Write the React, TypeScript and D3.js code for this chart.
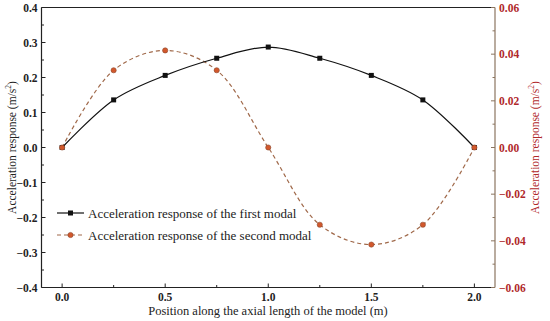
import React from "react";
import * as d3 from "d3";

const positions = [0, 0.25, 0.5, 0.75, 1.0, 1.25, 1.5, 1.75, 2.0];
const firstModal = [0, 0.136, 0.206, 0.255, 0.287, 0.255, 0.206, 0.136, 0];
const secondModal = [0, 0.0331, 0.0416, 0.0331, 0, -0.0331, -0.0416, -0.0331, 0];
const xTicks = [0, 0.5, 1.0, 1.5, 2.0];
const xMinor = [0.25, 0.75, 1.25, 1.75];
const yLeftTicks = [-0.4, -0.3, -0.2, -0.1, 0, 0.1, 0.2, 0.3, 0.4];
const yRightTicks = [-0.06, -0.04, -0.02, 0, 0.02, 0.04, 0.06];
const legendLabels = [
  "Acceleration response of the first modal",
  "Acceleration response of the second modal",
];

const W = 550, H = 321;
const L = 41.5, R = 495, T = 7.5, B = 287.5;
const FONT = '"Liberation Serif", "Times New Roman", "DejaVu Serif", serif';
const RED = "#B0282A";
const RAXIS = "#8B7560";
const DASH = "#A0694A";
const tf = { fontFamily: FONT };

export default function App() {
  const x = d3.scaleLinear().domain([-0.1, 2.1]).range([L, R]);
  const yL = d3.scaleLinear().domain([-0.4, 0.4]).range([B, T]);
  const yR = d3.scaleLinear().domain([-0.06, 0.06]).range([B, T]);
  const line1 = d3.line<number>().x((_, i) => x(positions[i])).y((d) => yL(d)).curve(d3.curveCatmullRom.alpha(0.5));
  const line2 = d3.line<number>().x((_, i) => x(positions[i])).y((d) => yR(d)).curve(d3.curveCatmullRom.alpha(0.5));

  const leftMinor: number[] = [];
  for (let i = 0; i < 8; i++) leftMinor.push(-0.35 + i * 0.1);
  const rightMinor: number[] = [];
  for (let i = 0; i < 6; i++) rightMinor.push(-0.05 + i * 0.02);

  return (
    <svg width={W} height={H} style={{ position: "absolute", left: 0, top: 0, background: "#fff", fontFamily: FONT }}>
      <line x1={L} x2={L} y1={T} y2={B} stroke="#222" strokeWidth={1.2} />
      <line x1={L} x2={R} y1={B} y2={B} stroke="#222" strokeWidth={1.2} />
      <line x1={L} x2={R} y1={T} y2={T} stroke="#222" strokeWidth={1.2} />
      <line x1={R} x2={R} y1={T} y2={B} stroke={RAXIS} strokeWidth={1.2} />
      {yLeftTicks.map((t) => (
        <g key={"yl" + t}>
          <line x1={L} x2={L + 4} y1={yL(t)} y2={yL(t)} stroke="#222" />
          <text style={tf} x={L - 4} y={yL(t)} dy="0.35em" textAnchor="end" fontSize={11.5} fontWeight="bold" fill="#222">
            {t === 0 ? "0.0" : (t < 0 ? "\u2212" : "") + Math.abs(t).toFixed(1)}
          </text>
        </g>
      ))}
      {leftMinor.map((t) => (
        <line key={"ylm" + t} x1={L} x2={L + 2.5} y1={yL(t)} y2={yL(t)} stroke="#222" />
      ))}
      {yRightTicks.map((t) => (
        <g key={"yr" + t}>
          <line x1={R} x2={R - 4} y1={yR(t)} y2={yR(t)} stroke={RAXIS} />
          <text style={tf} x={R + 4} y={yR(t)} dy="0.35em" textAnchor="start" fontSize={11.5} fontWeight="bold" fill={RED}>
            {t === 0 ? "0.00" : (t < 0 ? "\u2212" : "") + Math.abs(t).toFixed(2)}
          </text>
        </g>
      ))}
      {rightMinor.map((t) => (
        <line key={"yrm" + t} x1={R} x2={R - 2.5} y1={yR(t)} y2={yR(t)} stroke={RAXIS} />
      ))}
      {xTicks.map((t) => (
        <g key={"x" + t}>
          <line x1={x(t)} x2={x(t)} y1={B} y2={B - 4} stroke="#222" />
          <text style={tf} x={x(t)} y={B + 13} textAnchor="middle" fontSize={11.5} fontWeight="bold" fill="#222">
            {t.toFixed(1)}
          </text>
        </g>
      ))}
      {xMinor.map((t) => (
        <line key={"xm" + t} x1={x(t)} x2={x(t)} y1={B} y2={B - 2.5} stroke="#222" />
      ))}
      <text style={tf} x={268} y={315} textAnchor="middle" fontSize={12.5} fill="#222">
        Position along the axial length of the model (m)
      </text>
      <text style={tf} transform={`translate(16,${(T + B) / 2}) rotate(-90)`} textAnchor="middle" fontSize={11.5} fill="#222">
        Acceleration response (m/s<tspan fontSize={7.5} dy={-5}>2</tspan><tspan dy={5}>)</tspan>
      </text>
      <text style={tf} transform={`translate(539,${(T + B) / 2}) rotate(-90)`} textAnchor="middle" fontSize={11.5} fill={RED}>
        Acceleration response (m/s<tspan fontSize={7.5} dy={-5}>2</tspan><tspan dy={5}>)</tspan>
      </text>
      <path d={line2(secondModal) || ""} fill="none" stroke={DASH} strokeWidth={1.2} strokeDasharray="4,3" />
      <path d={line1(firstModal) || ""} fill="none" stroke="#111" strokeWidth={1.2} />
      {firstModal.map((v, i) => (
        <rect key={"m1" + i} x={x(positions[i]) - 2.5} y={yL(v) - 2.5} width={5} height={5} fill="#111" />
      ))}
      {secondModal.map((v, i) => (
        <circle key={"m2" + i} cx={x(positions[i])} cy={yR(v)} r={2.6} fill="#D2582C" stroke="#8B4A30" strokeWidth={0.6} />
      ))}
      <line x1={57} x2={84} y1={213} y2={213} stroke="#111" strokeWidth={1.2} />
      <rect x={68} y={210.5} width={5} height={5} fill="#111" />
      <text style={tf} x={88} y={213} dy="0.35em" fontSize={13} fill="#222">{legendLabels[0]}</text>
      <line x1={57} x2={84} y1={235} y2={235} stroke={DASH} strokeWidth={1.2} strokeDasharray="4,3" />
      <circle cx={70.5} cy={235} r={2.6} fill="#D2582C" stroke="#8B4A30" strokeWidth={0.6} />
      <text style={tf} x={88} y={235} dy="0.35em" fontSize={13} fill="#222">{legendLabels[1]}</text>
    </svg>
  );
}
